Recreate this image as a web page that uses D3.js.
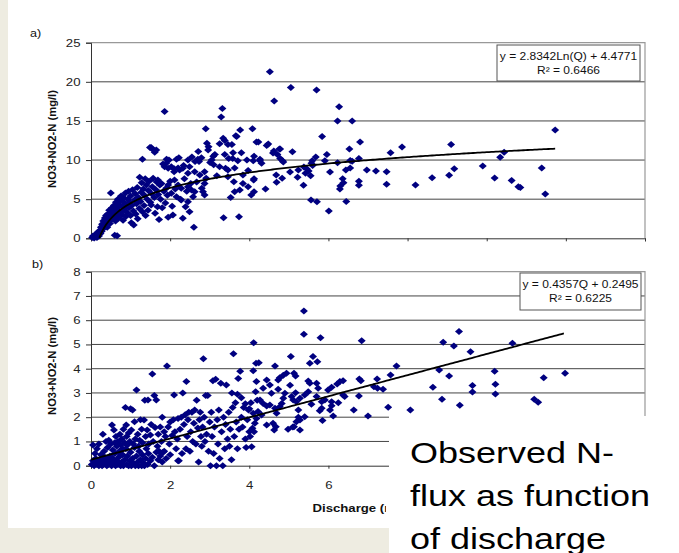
<!DOCTYPE html>
<html>
<head>
<meta charset="utf-8">
<script src="https://cdn.jsdelivr.net/npm/d3@7"></script>
<style>
  body { margin: 0; background: #eeece1; }
  svg { display: block; font-family: "Liberation Sans", Arial, sans-serif; }
</style>
</head>
<body>
<svg id="board" width="679" height="553"></svg>
<script>
// x ticks shared by both panels, Q = discharge
const xTicks = [0, 2, 4, 6, 8, 10, 12, 14];
const yTicksA = [0, 5, 10, 15, 20, 25];
const yTicksB = [0, 1, 2, 3, 4, 5, 6, 7, 8];

// panel a) concentration vs discharge
const pointsA = [
  [0.03,0.1],[0.05,0.3],[0.08,0.05],[0.1,0.4],[0.12,0.2],[0.14,0.6],[0.15,0.1],[0.18,0.8],[0.2,0.3],[0.22,1.0],
  [0.24,0.6],[0.25,1.4],[0.27,0.9],[0.28,1.8],[0.3,1.2],[0.31,2.2],[0.33,1.5],[0.35,2.6],[0.36,1.9],[0.38,2.9],
  [0.4,2.2],[0.41,1.4],[0.43,3.1],[0.45,2.5],[0.46,3.6],[0.48,1.9],[0.5,3.0],[0.5,5.8],[0.52,2.4],[0.53,3.9],
  [0.55,3.3],[0.57,2.8],[0.58,4.2],[0.6,0.4],[0.6,3.6],[0.62,2.2],[0.63,4.6],[0.65,3.0],[0.66,0.33],[0.67,3.9],
  [0.68,5.0],[0.7,2.6],[0.71,4.3],[0.73,3.4],[0.75,4.8],[0.76,5.4],[0.78,3.0],[0.8,4.0],[0.81,2.3],[0.82,5.2],
  [0.84,3.6],[0.85,4.5],[0.87,5.8],[0.88,2.8],[0.9,4.1],[0.91,3.3],[0.93,5.0],[0.95,6.0],[0.96,3.9],[0.98,4.6],
  [1.0,2.9],[1.0,5.4],[1.02,2.0],[1.03,4.2],[1.05,6.2],[1.07,3.5],[1.08,1.7],[1.1,4.9],[1.12,5.7],[1.13,3.1],
  [1.15,4.4],[1.17,6.5],[1.18,2.5],[1.2,5.2],[1.22,3.8],[1.23,7.8],[1.25,4.7],[1.27,5.9],[1.28,7.1],[1.3,3.4],
  [1.3,10.1],[1.32,6.3],[1.34,4.2],[1.35,5.5],[1.37,7.6],[1.38,2.9],[1.4,6.8],[1.42,5.0],[1.44,3.6],[1.45,6.1],
  [1.47,7.3],[1.49,11.6],[1.5,4.6],[1.52,11.6],[1.52,4.26],[1.53,5.7],[1.55,6.6],[1.57,7.67],[1.58,11.3],[1.6,5.2],
  [1.61,11.0],[1.62,3.2],[1.64,6.2],[1.65,11.3],[1.66,7.2],[1.68,4.04],[1.69,7.45],[1.7,5.6],[1.72,2.4],[1.74,6.8],
  [1.76,5.0],[1.78,7.0],[1.8,3.9],[1.82,9.5],[1.84,6.0],[1.86,9.15],[1.86,16.2],[1.88,4.5],[1.9,6.4],[1.9,9.6],
  [1.91,10.1],[1.93,5.5],[1.95,6.8],[1.95,8.95],[1.95,2.7],[1.97,10.0],[2.0,7.3],[2.03,5.75],[2.03,9.15],[2.05,4.1],
  [2.07,2.98],[2.1,8.5],[2.1,8.9],[2.11,7.45],[2.13,6.3],[2.16,5.32],[2.16,10.1],[2.2,6.8],[2.2,9.0],[2.22,10.3],
  [2.24,8.73],[2.26,5.0],[2.28,6.4],[2.28,4.9],[2.32,8.95],[2.32,2.56],[2.34,9.3],[2.36,7.6],[2.39,4.04],[2.42,6.0],
  [2.45,8.3],[2.45,6.6],[2.45,4.68],[2.45,10.0],[2.49,9.15],[2.49,3.4],[2.52,7.0],[2.54,6.18],[2.55,10.4],[2.58,5.32],
  [2.6,1.4],[2.62,8.5],[2.62,5.96],[2.63,9.8],[2.67,7.2],[2.7,10.1],[2.71,11.1],[2.73,9.8],[2.75,8.1],[2.79,10.3],
  [2.8,6.4],[2.83,5.96],[2.87,8.5],[2.87,7.0],[2.87,5.54],[2.9,14.0],[2.91,7.67],[2.93,12.15],[2.96,11.3],[2.97,11.7],
  [3.01,9.7],[3.05,10.0],[3.09,10.5],[3.1,9.4],[3.13,10.7],[3.18,8.0],[3.25,12.1],[3.25,9.15],[3.29,15.5],[3.32,16.6],
  [3.34,12.8],[3.35,2.63],[3.38,12.5],[3.38,10.7],[3.4,8.95],[3.46,12.0],[3.46,8.73],[3.46,7.88],[3.48,10.2],[3.53,5.2],
  [3.56,12.0],[3.58,10.2],[3.59,10.95],[3.61,7.24],[3.63,9.0],[3.63,5.96],[3.66,13.1],[3.68,13.0],[3.71,9.9],[3.74,2.76],
  [3.76,6.18],[3.77,13.85],[3.8,10.95],[3.84,8.1],[3.84,7.0],[3.94,10.0],[3.97,8.65],[3.97,6.6],[4.05,5.54],[4.08,14.0],
  [4.1,9.9],[4.11,7.45],[4.12,7.6],[4.12,5.96],[4.12,10.5],[4.18,12.3],[4.23,12.3],[4.27,10.1],[4.27,9.9],[4.31,9.6],
  [4.41,6.3],[4.44,11.85],[4.48,12.06],[4.52,21.3],[4.6,10.9],[4.62,11.16],[4.63,17.55],[4.68,8.1],[4.69,7.16],[4.71,10.7],
  [4.76,11.4],[4.78,10.2],[4.78,11.4],[4.83,7.67],[4.84,9.9],[4.86,9.75],[5.03,8.48],[5.05,19.26],[5.09,11.07],[5.22,7.8],
  [5.24,8.73],[5.37,6.78],[5.38,9.1],[5.42,8.3],[5.45,8.9],[5.5,8.6],[5.55,8.0],[5.56,4.9],[5.57,9.6],[5.59,9.9],
  [5.6,9.3],[5.68,10.4],[5.7,18.96],[5.71,4.68],[5.84,13.0],[5.91,9.9],[5.96,10.7],[6.01,3.5],[6.04,8.48],[6.23,15.0],
  [6.23,9.67],[6.27,16.8],[6.29,6.3],[6.3,6.7],[6.36,7.6],[6.38,7.1],[6.44,8.73],[6.45,4.7],[6.53,11.4],[6.55,9.0],
  [6.55,9.95],[6.6,15.0],[6.6,9.85],[6.77,10.2],[6.77,7.3],[6.77,6.78],[6.8,12.3],[6.97,8.73],[7.2,8.6],[7.47,8.5],
  [7.47,6.9],[7.57,10.95],[7.86,11.67],[8.2,6.8],[8.62,7.75],[9.05,8.05],[9.1,12.0],[9.18,8.9],[9.9,9.25],[10.2,7.7],
  [10.34,10.35],[10.44,11.0],[10.63,7.4],[10.8,6.6],[10.85,6.5],[11.39,9.0],[11.48,5.67],[11.73,13.85]
];

// panel b)
const pointsB = [
  [0.02,0.05],[0.05,0.2],[0.08,0.0],[0.1,0.1],[0.12,0.3],[0.15,0.05],[0.18,0.15],[0.2,0.0],[0.22,0.25],[0.25,0.1],
  [0.28,0.0],[0.3,0.2],[0.32,0.05],[0.35,0.35],[0.38,0.1],[0.4,0.0],[0.42,0.25],[0.45,0.05],[0.48,0.4],[0.5,0.15],
  [0.52,0.0],[0.55,0.3],[0.58,0.1],[0.6,0.5],[0.62,0.0],[0.65,0.2],[0.68,0.05],[0.7,0.35],[0.72,0.6],[0.75,0.0],
  [0.78,0.15],[0.8,0.45],[0.82,0.0],[0.85,0.25],[0.88,0.7],[0.9,0.05],[0.92,0.4],[0.95,0.0],[0.98,0.2],[1.0,0.55],
  [1.02,0.0],[1.05,0.3],[1.08,0.1],[1.1,0.75],[1.12,0.0],[1.15,0.4],[1.18,0.15],[1.2,0.0],[1.22,0.6],[1.25,0.25],
  [1.28,0.0],[1.3,0.45],[1.33,0.1],[1.35,0.0],[1.38,0.3],[1.4,0.7],[1.43,0.05],[1.45,0.5],[1.5,0.2],[1.55,0.35],
  [1.6,0.0],[1.65,0.55],[1.7,0.25],[1.75,0.4],[1.8,0.15],[1.85,0.6],[1.9,0.3],[2.0,0.45],[2.2,0.2],
  [0.05,0.85],[0.1,0.5],[0.15,0.7],[0.2,0.9],[0.25,0.45],[0.3,1.3],[0.33,0.6],[0.38,1.0],[0.42,0.75],[0.45,1.05],
  [0.5,0.9],[0.53,1.68],[0.55,0.65],[0.58,1.47],[0.6,0.95],[0.63,1.2],[0.65,0.8],[0.68,1.0],[0.7,0.55],[0.73,1.3],
  [0.75,0.85],[0.78,1.1],[0.8,0.7],[0.82,1.5],[0.85,0.95],[0.87,2.4],[0.89,1.68],[0.9,1.2],[0.92,0.85],[0.95,1.35],
  [0.98,1.0],[1.0,2.35],[1.02,1.47],[1.05,2.3],[1.07,0.9],[1.1,1.81],[1.12,1.1],[1.15,3.12],[1.18,1.3],[1.2,0.8],
  [1.23,1.05],[1.25,1.9],[1.28,1.5],[1.3,0.95],[1.34,1.88],[1.36,2.7],[1.38,1.2],[1.42,1.47],[1.44,2.71],[1.46,0.9],
  [1.5,1.27],[1.52,1.7],[1.55,3.78],[1.57,1.0],[1.6,2.9],[1.62,1.58],[1.65,2.71],[1.68,0.8],[1.7,1.3],[1.72,0.6],
  [1.75,1.6],[1.78,1.0],[1.8,2.0],[1.82,0.55],[1.85,1.4],[1.88,1.2],[1.92,4.11],[1.95,1.6],[1.98,0.9],[2.0,1.8],
  [2.05,1.25],[2.08,1.9],[2.1,2.92],[2.12,1.4],[2.15,0.7],[2.18,1.1],[2.2,1.95],[2.22,0.2],[2.25,1.5],[2.28,2.0],
  [2.3,0.5],[2.32,3.0],[2.35,1.7],[2.38,2.1],[2.4,0.7],[2.41,3.47],[2.43,1.2],[2.45,1.9],[2.47,2.2],[2.5,0.6],
  [2.52,1.4],[2.55,2.2],[2.57,1.0],[2.6,1.75],[2.62,2.3],[2.65,0.9],[2.67,2.7],[2.7,1.55],[2.72,0.15],[2.74,1.9],
  [2.76,2.2],[2.78,1.2],[2.8,0.8],[2.82,1.6],[2.84,4.41],[2.86,2.0],[2.88,1.0],[2.9,2.9],[2.92,1.3],[2.95,2.9],
  [2.97,0.6],[3.0,1.8],[3.02,0.0],[3.04,2.2],[3.06,1.2],[3.08,3.5],[3.1,0.5],[3.12,1.6],[3.15,3.56],[3.17,0.0],
  [3.19,1.9],[3.21,0.9],[3.23,2.3],[3.25,0.3],[3.28,3.4],[3.3,1.4],[3.33,0.0],[3.35,2.0],[3.38,0.7],[3.4,1.7],
  [3.42,3.33],[3.45,1.1],[3.48,2.2],[3.5,0.8],[3.52,1.5],[3.55,0.25],[3.56,3.0],[3.58,2.4],[3.6,4.62],[3.62,1.2],
  [3.65,2.6],[3.67,1.8],[3.7,0.7],[3.7,2.95],[3.72,3.6],[3.74,1.5],[3.77,3.9],[3.8,2.0],[3.8,2.8],[3.83,1.6],
  [3.86,2.4],[3.9,1.1],[3.9,2.55],[3.92,0.75],[3.95,1.9],[3.98,2.3],[4.0,1.4],[4.0,2.35],[4.02,1.2],[4.04,2.6],
  [4.06,0.78],[4.08,1.54],[4.1,2.16],[4.1,3.92],[4.11,5.07],[4.12,1.4],[4.14,1.75],[4.16,3.05],[4.17,4.22],[4.18,1.95],
  [4.18,3.47],[4.2,2.7],[4.22,2.23],[4.24,4.25],[4.27,2.71],[4.31,2.09],[4.35,2.57],[4.35,3.19],[4.44,3.53],[4.44,2.46],
  [4.44,1.68],[4.52,3.33],[4.52,2.5],[4.56,2.99],[4.6,1.75],[4.63,1.47],[4.65,2.37],[4.65,4.11],[4.67,1.61],[4.69,2.16],
  [4.73,3.53],[4.73,3.15],[4.77,3.63],[4.77,2.43],[4.82,2.57],[4.86,3.73],[4.86,2.78],[4.9,2.99],[4.94,3.81],[4.98,1.5],
  [5.03,3.32],[5.05,4.5],[5.07,2.85],[5.1,1.6],[5.11,2.71],[5.13,3.81],[5.13,1.61],[5.17,3.7],[5.17,3.01],[5.19,2.64],
  [5.19,1.81],[5.24,2.0],[5.24,2.3],[5.28,2.78],[5.28,1.88],[5.28,1.47],[5.38,6.38],[5.38,5.42],[5.4,2.92],[5.4,2.02],
  [5.49,3.49],[5.49,3.05],[5.53,3.4],[5.53,4.22],[5.57,2.53],[5.61,4.5],[5.7,3.4],[5.7,2.85],[5.72,4.29],[5.74,3.19],
  [5.78,2.27],[5.8,5.28],[5.83,2.37],[5.83,2.64],[5.85,1.86],[5.91,2.71],[5.99,3.12],[6.04,2.3],[6.08,3.23],[6.08,2.47],
  [6.08,2.64],[6.12,2.05],[6.22,3.37],[6.25,2.6],[6.29,3.47],[6.37,3.5],[6.37,2.92],[6.41,2.85],[6.64,2.3],[6.77,2.87],
  [6.78,3.58],[6.82,3.5],[6.84,5.15],[7.0,2.05],[7.15,3.26],[7.23,3.58],[7.24,3.19],[7.38,3.15],[7.51,2.41],[7.57,3.74],
  [7.72,4.11],[8.07,2.3],[8.64,3.23],[8.8,3.95],[8.87,2.74],[8.9,5.09],[9.05,3.7],[9.17,4.94],[9.3,5.53],[9.32,2.49],
  [9.59,4.7],[9.64,3.31],[9.64,3.04],[10.2,3.9],[10.22,3.36],[10.22,2.96],[10.65,5.05],[11.2,2.74],[11.3,2.62],[11.44,3.63],
  [11.98,3.81]
];

// fitted trend lines, as written in the equation boxes
const fitA = { slope: 2.8342, intercept: 4.4771, from: 0.21, to: 11.73 };
const fitB = { slope: 0.4357, intercept: 0.2495, from: 0, to: 11.95 };
const labelA = ["y = 2.8342Ln(Q) + 4.4771", "R\u00b2 = 0.6466"];
const labelB = ["y = 0.4357Q + 0.2495", "R\u00b2 = 0.6225"];
const yTitle = "NO3+NO2-N (mg/l)";
const xTitle = "Discharge (m3/s)";
const caption = ["Observed N-", "flux as function", "of discharge"];

const stretch = 1.2; // the slide was squeezed wider than tall
const coverX = 389, coverY = 416; // caption box hides the lower right corner

let svg = d3.select("#board");

svg.append("rect").attr("x", 8).attr("y", 0).attr("width", 671).attr("height", 528).attr("fill", "white");

// clip for chart parts that run under the caption box
svg.append("clipPath").attr("id", "uncovered")
    .append("path")
    .attr("d", `M0,0H679V${coverY}H${coverX}V553H0Z`);

let xScale = d3.scaleLinear().domain([0, 14]).range([91, 645]);

// diamond a bit wider than tall, like the picture
const diamond = {
    draw(ctx, size) {
        const w = 4.0, h = 3.5;
        ctx.moveTo(0, -h); ctx.lineTo(w, 0); ctx.lineTo(0, h); ctx.lineTo(-w, 0); ctx.closePath();
    }
};

function wideText(g, x, y, txt, size, anchor, weight) {
    return g.append("text")
        .attr("transform", `translate(${x},${y}) scale(${stretch},1)`)
        .attr("text-anchor", anchor || "start")
        .attr("font-size", size)
        .attr("font-weight", weight || "normal")
        .attr("fill", "#111")
        .text(txt);
}

function drawPanel(opts) {
    let yScale = d3.scaleLinear().domain([0, opts.yMax]).range([opts.bottom, opts.top]);
    let g = svg.append("g").attr("clip-path", "url(#uncovered)");

    // grid lines
    g.selectAll(".grid").data(opts.yTicks.slice(1, -1)).enter()
        .append("line")
        .attr("x1", 91).attr("x2", 645)
        .attr("y1", d => yScale(d)).attr("y2", d => yScale(d))
        .attr("stroke", "#444").attr("stroke-width", 1);

    // plot border (top and right)
    g.append("path")
        .attr("d", `M91,${opts.top}H645V${opts.bottom}`)
        .attr("fill", "none").attr("stroke", "#999").attr("stroke-width", 1.2);

    let yAxis = g.append("g").attr("transform", "translate(91,0)")
        .call(d3.axisLeft(yScale).tickValues(opts.yTicks).tickSize(5).tickFormat(d3.format("d")));
    yAxis.select(".domain").attr("stroke", "#333");
    yAxis.selectAll(".tick line").attr("stroke", "#333");
    yAxis.selectAll("text")
        .attr("x", null)
        .attr("transform", `translate(-10.5,0) scale(${stretch},1)`)
        .attr("font-size", 11).attr("fill", "#222")
        .attr("font-family", "Liberation Sans, Arial, sans-serif");

    // only ticks left of the caption box get a label
    const shown = opts.xLabels ? xTicks.filter(d => xScale(d) < coverX - 10) : [];
    let xAxis = g.append("g").attr("transform", `translate(0,${opts.bottom})`)
        .call(d3.axisBottom(xScale).tickValues(xTicks).tickSize(3)
            .tickFormat(d => shown.includes(d) ? d3.format("d")(d) : ""));
    xAxis.select(".domain").attr("stroke", "#333");
    xAxis.selectAll(".tick line").attr("stroke", "#333");
    xAxis.selectAll("text")
        .attr("y", null).attr("dy", null)
        .attr("transform", `translate(0,23) scale(${stretch},1)`)
        .attr("font-size", 11).attr("fill", "#222")
        .attr("font-family", "Liberation Sans, Arial, sans-serif");

    // points
    g.selectAll(".pt").data(opts.points).enter()
        .append("path")
        .attr("d", d3.symbol().type(diamond).size(20))
        .attr("transform", d => `translate(${xScale(d[0])},${yScale(d[1])})`)
        .attr("fill", "#000080");

    // trend line
    const xs = d3.range(0, 201).map(i => opts.fit.from + (opts.fit.to - opts.fit.from) * i / 200);
    const line = d3.line().x(d => xScale(d)).y(d => yScale(opts.fitFn(d)));
    g.append("path").datum(xs).attr("d", line)
        .attr("fill", "none").attr("stroke", "#000").attr("stroke-width", 1.8);

    // equation box
    g.append("rect")
        .attr("x", opts.box[0]).attr("y", opts.box[1])
        .attr("width", opts.box[2]).attr("height", opts.box[3])
        .attr("fill", "white").attr("stroke", "#555").attr("stroke-width", 1);
    const cx = opts.box[0] + opts.box[2] / 2;
    wideText(g, cx, opts.box[1] + 15, opts.label[0], 10, "middle");
    wideText(g, cx, opts.box[1] + 29, opts.label[1], 10, "middle");

    // y title
    g.append("text")
        .attr("transform", `translate(56,${opts.titleY}) rotate(-90)`)
        .attr("text-anchor", "middle")
        .attr("font-size", 11.2).attr("font-weight", "bold").attr("fill", "#111")
        .text(yTitle);

    wideText(g, opts.tag[0], opts.tag[1], opts.tagText, 10.5, "start");
    return g;
}

drawPanel({
    top: 42.7, bottom: 238.3, yMax: 25, yTicks: yTicksA, points: pointsA,
    fit: fitA, fitFn: q => fitA.slope * Math.log(q) + fitA.intercept,
    box: [497, 45, 143, 36], label: labelA, titleY: 139,
    tag: [30, 37], tagText: "a)", xLabels: false
});

drawPanel({
    top: 271.7, bottom: 465.7, yMax: 8, yTicks: yTicksB, points: pointsB,
    fit: fitB, fitFn: q => fitB.slope * q + fitB.intercept,
    box: [520, 273, 121, 37], label: labelB, titleY: 366,
    tag: [32, 268], tagText: "b)", xLabels: true
});

// axis title runs under the caption box, so it is clipped there
let titleClip = svg.append("clipPath").attr("id", "titleClip");
titleClip.append("rect").attr("x", 0).attr("y", 490).attr("width", 386).attr("height", 40);
wideText(svg.append("g").attr("clip-path", "url(#titleClip)"), 312.5, 511.5, xTitle, 11, "start", "bold");

// caption box on top of the lower right corner
svg.append("rect").attr("x", coverX).attr("y", coverY).attr("width", 290).attr("height", 137).attr("fill", "white");
caption.forEach((t, i) => {
    wideText(svg, 410, 463 + i * 43, t, 30, "start").attr("fill", "#000");
});
</script>
</body>
</html>
